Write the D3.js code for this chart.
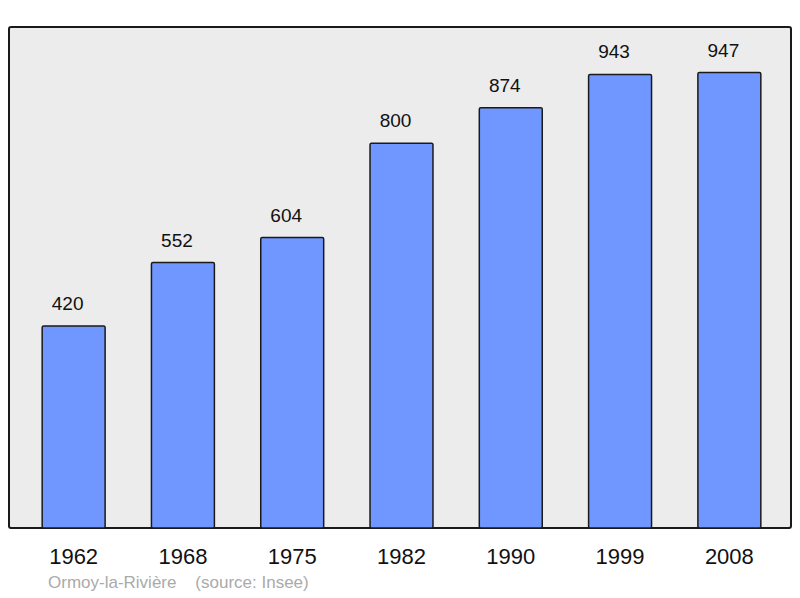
<!DOCTYPE html>
<html>
<head>
    <style>
        body { margin: 0; background: #fff; }
        text { font-family: "Liberation Sans", Arial, sans-serif; }
    </style>
    <script src="https://d3js.org/d3.v7.min.js"></script>
</head>
<body>
    <svg width="800" height="598"></svg>
    <script>
        // population by census year
        const years = ["1962", "1968", "1975", "1982", "1990", "1999", "2008"]
        const population = [420, 552, 604, 800, 874, 943, 947]
        const commune = "Ormoy-la-Rivière"
        const source = "(source: Insee)"

        const svg = d3.select("svg")
        const frame = { left: 9, right: 791, top: 27, bottom: 528 }

        const x = d3.scaleBand()
            .domain(years)
            .range([19, 784])
            .paddingInner(0.424)
            .paddingOuter(0.212)

        const y = d3.scaleLinear()
            .domain([0, d3.max(population) * 1.1])
            .range([frame.bottom, frame.top])

        // plot background + frame
        svg.append("rect")
            .attr("x", frame.left)
            .attr("y", frame.top)
            .attr("width", frame.right - frame.left)
            .attr("height", frame.bottom - frame.top)
            .attr("rx", 2)
            .attr("fill", "#ececec")
            .attr("stroke", "#1a1a1a")
            .attr("stroke-width", 2)

        const data = years.map((yr, i) => ({ year: yr, value: population[i] }))

        svg.selectAll(".bar")
            .data(data)
            .join("rect")
            .attr("class", "bar")
            .attr("x", d => x(d.year))
            .attr("y", d => y(d.value))
            .attr("width", x.bandwidth())
            .attr("height", d => frame.bottom - y(d.value))
            .attr("rx", 1.5)
            .attr("fill", "#7097ff")
            .attr("stroke", "#1a1a1a")
            .attr("stroke-width", 1.5)

        // value labels sit a little left of the bar centre
        svg.selectAll(".val")
            .data(data)
            .join("text")
            .attr("class", "val")
            .attr("x", d => x(d.year) + x.bandwidth() / 2 - 6)
            .attr("y", d => y(d.value) - 16)
            .attr("text-anchor", "middle")
            .attr("font-size", 19)
            .attr("fill", "#111")
            .text(d => d.value)

        // year labels under the frame
        svg.selectAll(".year")
            .data(years)
            .join("text")
            .attr("class", "year")
            .attr("x", d => x(d) + x.bandwidth() / 2)
            .attr("y", 564)
            .attr("text-anchor", "middle")
            .attr("font-size", 22)
            .attr("fill", "#111")
            .text(d => d)

        svg.append("text")
            .attr("x", 48)
            .attr("y", 588)
            .attr("font-size", 17)
            .attr("fill", "#aaaaaa")
            .attr("xml:space", "preserve")
            .text(commune + "    " + source)
    </script>
</body>
</html>
